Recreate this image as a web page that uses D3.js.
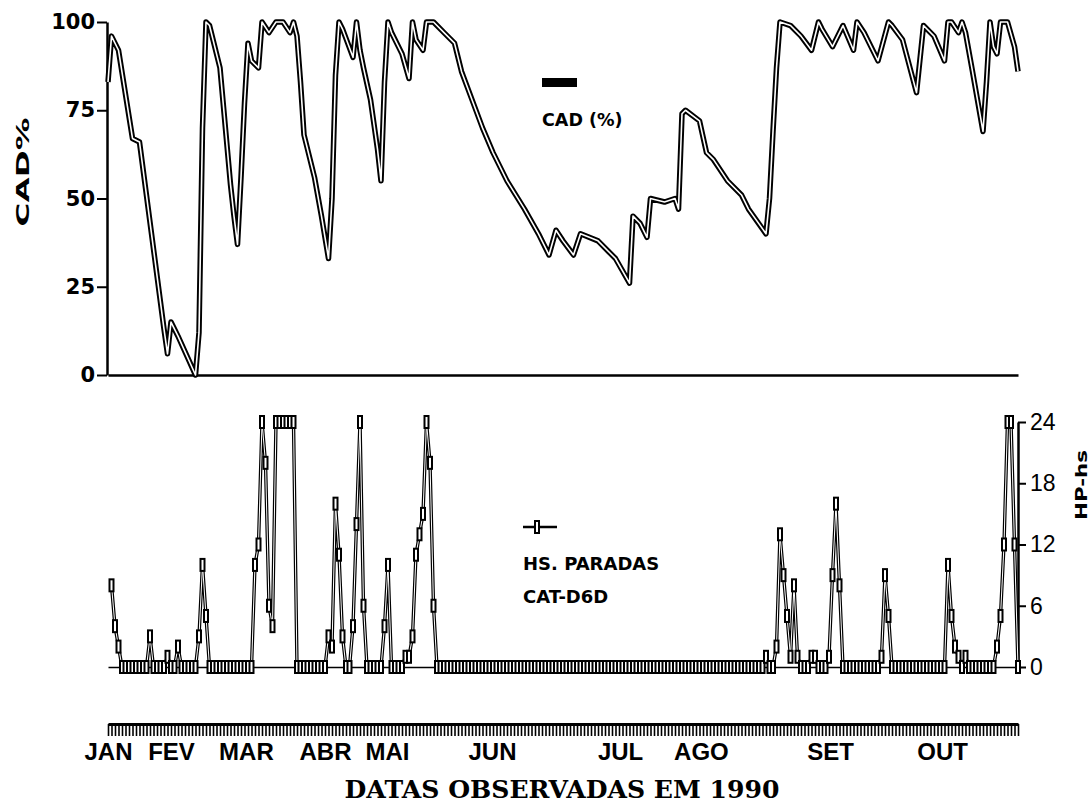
<!DOCTYPE html>
<html>
<head>
<meta charset="utf-8">
<script src="https://d3js.org/d3.v7.min.js"></script>
<style>
  body { margin: 0; background: #fff; }
  svg { display: block; }
</style>
</head>
<body>
<div id="chart"></div>
<script>
// width and height
var w = 1090;
var h = 805;

// observation number (x) and CAD % for the top panel
var cadObs = [0, 1, 3, 7, 9, 16, 17, 18, 20, 25,
  26, 27, 28, 29, 32, 35, 36, 37, 38, 39,
  40, 41, 43, 44, 46, 48, 50, 52, 53, 54,
  55, 56, 59, 61, 63, 64, 65, 66, 67, 70,
  71, 72, 73, 75, 77, 78, 79, 80, 81, 84,
  86, 87, 88, 90, 91, 93, 96, 99, 101, 104,
  107, 110, 114, 119, 123, 126, 128, 130, 133, 135,
  140, 143, 145, 149, 150, 152, 154, 155, 159, 162,
  163, 164, 165, 169, 171, 173, 177, 181, 183, 188,
  189, 190, 191, 192, 195, 198, 201, 203, 204, 207,
  210, 213, 214, 216, 220, 223, 224, 227, 231, 233,
  236, 239, 240, 241, 243, 244, 245, 247, 250, 251,
  252, 253, 254, 255, 257, 259, 260];
var cadPct = [83, 96, 92, 67, 66, 13, 6, 15, 11, 0,
  12, 70, 100, 99, 87, 54, 45, 37, 56, 77,
  94, 89, 87, 100, 97, 100, 100, 97, 100, 96,
  83, 68, 56, 45, 33, 50, 85, 100, 98, 90,
  100, 92, 87, 78, 64, 55, 83, 100, 97, 91,
  84, 100, 95, 92, 100, 100, 97, 94, 86, 78,
  70, 63, 55, 47, 40, 34, 41, 38, 34, 40,
  38, 35, 33, 26, 45, 43, 39, 50, 49, 50,
  47, 74, 75, 72, 63, 61, 55, 51, 47, 40,
  50, 69, 87, 100, 99, 96, 92, 100, 98, 93,
  99, 92, 100, 97, 89, 100, 99, 95, 80, 99,
  96, 89, 100, 100, 97, 100, 97, 86, 69, 83,
  100, 93, 91, 100, 100, 93, 86];

// hours stopped, one value per observation, starting at observation 1
var hsFirstObs = 1;
var hsHours = [
  8, 4, 2, 0, 0, 0, 0, 0, 0, 0,
  0, 3, 0, 0, 0, 0, 1, 0, 0, 2,
  0, 0, 0, 0, 0, 3, 10, 5, 0, 0,
  0, 0, 0, 0, 0, 0, 0, 0, 0, 0,
  0, 10, 12, 24, 20, 6, 4, 24, 24, 24,
  24, 24, 24, 0, 0, 0, 0, 0, 0, 0,
  0, 0, 3, 2, 16, 11, 3, 0, 0, 4,
  14, 24, 6, 0, 0, 0, 0, 0, 4, 10,
  0, 0, 0, 0, 1, 1, 3, 11, 13, 15,
  24, 20, 6, 0, 0, 0, 0, 0, 0, 0,
  0, 0, 0, 0, 0, 0, 0, 0, 0, 0,
  0, 0, 0, 0, 0, 0, 0, 0, 0, 0,
  0, 0, 0, 0, 0, 0, 0, 0, 0, 0,
  0, 0, 0, 0, 0, 0, 0, 0, 0, 0,
  0, 0, 0, 0, 0, 0, 0, 0, 0, 0,
  0, 0, 0, 0, 0, 0, 0, 0, 0, 0,
  0, 0, 0, 0, 0, 0, 0, 0, 0, 0,
  0, 0, 0, 0, 0, 0, 0, 0, 0, 0,
  0, 0, 0, 0, 0, 0, 0, 1, 0, 0,
  2, 13, 9, 5, 1, 8, 1, 0, 0, 0,
  1, 1, 0, 0, 0, 1, 9, 16, 8, 0,
  0, 0, 0, 0, 0, 0, 0, 0, 0, 0,
  1, 9, 5, 0, 0, 0, 0, 0, 0, 0,
  0, 0, 0, 0, 0, 0, 0, 0, 0, 10,
  5, 2, 1, 0, 1, 0, 0, 0, 0, 0,
  0, 0, 0, 2, 5, 12, 24, 24, 12, 0];

// month labels and the observation they sit on
var months = ["JAN", "FEV", "MAR", "ABR", "MAI", "JUN", "JUL", "AGO", "SET", "OUT"];
var monthObs = [0, 18, 39.4, 62, 79.7, 109.7, 146.3, 169.4, 206.3, 238.3];

var cadTicks = [0, 25, 50, 75, 100];
var hsTicks = [0, 6, 12, 18, 24];
var lastObs = 260;

var cad = cadObs.map(function(d, i) { return [d, cadPct[i]]; });
var hs = hsHours.map(function(d, i) { return [hsFirstObs + i, d]; });

// scales
var x = d3.scaleLinear().domain([0, lastObs]).range([108, 1018]);
var yCad = d3.scaleLinear().domain([0, 100]).range([375, 22]);
var yHs = d3.scaleLinear().domain([0, 24]).range([667, 422]);

var svg = d3.select("#chart")
  .append("svg")
  .attr("width", w)
  .attr("height", h);

//--------------------------- TOP: CAD % ---------------------------//

var gLeft = svg.append("g")
  .attr("transform", "translate(107,0)")
  .call(d3.axisLeft(yCad).tickValues(cadTicks).tickSize(10).tickSizeOuter(0).tickPadding(2));

gLeft.select(".domain").attr("stroke-width", 2.5);
gLeft.selectAll(".tick line").attr("stroke-width", 2);
gLeft.selectAll(".tick text")
  .attr("font-family", "DejaVu Sans")
  .attr("font-weight", "bold")
  .attr("font-size", "21px")
  .attr("fill", "#000");

var gTopBase = svg.append("g")
  .attr("transform", "translate(0,375)")
  .call(d3.axisBottom(x).tickValues([]).tickSizeOuter(0));
gTopBase.select(".domain").attr("stroke-width", 2.5);

var cadLine = d3.line()
  .x(function(d) { return x(d[0]); })
  .y(function(d) { return yCad(d[1]); });

// hollow line: black stroke with a white core
svg.append("path")
  .datum(cad)
  .attr("d", cadLine)
  .attr("fill", "none")
  .attr("stroke", "#000")
  .attr("stroke-width", 5.5)
  .attr("stroke-linejoin", "round");

svg.append("path")
  .datum(cad)
  .attr("d", cadLine)
  .attr("fill", "none")
  .attr("stroke", "#fff")
  .attr("stroke-width", 1.6)
  .attr("stroke-linejoin", "round");

svg.append("text")
  .text("CAD%")
  .attr("transform", "translate(29,172) rotate(-90)")
  .attr("text-anchor", "middle")
  .attr("font-family", "DejaVu Sans")
  .attr("font-weight", "bold")
  .attr("font-size", "18px")
  .attr("textLength", 109)
  .attr("lengthAdjust", "spacingAndGlyphs");

// legend top
svg.append("rect")
  .attr("x", 542)
  .attr("y", 78)
  .attr("width", 35)
  .attr("height", 9)
  .attr("fill", "#000");

svg.append("text")
  .text("CAD (%)")
  .attr("x", 542)
  .attr("y", 126)
  .attr("font-family", "DejaVu Sans")
  .attr("font-weight", "bold")
  .attr("font-size", "17.5px");

//--------------------------- BOTTOM: HS. PARADAS ---------------------------//

var gBase = svg.append("g")
  .attr("transform", "translate(0,667)")
  .call(d3.axisBottom(x).tickValues([]).tickSizeOuter(0));
gBase.select(".domain").attr("stroke-width", 1.5);

var gRight = svg.append("g")
  .attr("transform", "translate(1018,0)")
  .call(d3.axisRight(yHs).tickValues(hsTicks).tickSize(8).tickSizeOuter(0).tickPadding(4));

gRight.select(".domain").attr("stroke-width", 2.5);
gRight.selectAll(".tick line").attr("stroke-width", 2);
gRight.selectAll(".tick text")
  .attr("font-family", "Liberation Sans")
  .attr("font-size", "23px")
  .attr("fill", "#000");

var hsLine = d3.line()
  .x(function(d) { return x(d[0]); })
  .y(function(d) { return yHs(d[1]); });

svg.append("path")
  .datum(hs)
  .attr("d", hsLine)
  .attr("fill", "none")
  .attr("stroke", "#000")
  .attr("stroke-width", 3.4);

svg.append("path")
  .datum(hs)
  .attr("d", hsLine)
  .attr("fill", "none")
  .attr("stroke", "#fff")
  .attr("stroke-width", 1);

// markers: thick outline, small white core, so runs of zeros merge into a dark band
svg.selectAll("rect.mark")
  .data(hs)
  .enter()
  .append("rect")
  .attr("class", "mark")
  .attr("x", function(d) { return x(d[0]) - 2; })
  .attr("y", function(d) { return yHs(d[1]) - 6; })
  .attr("width", 4)
  .attr("height", 12)
  .attr("fill", "#fff")
  .attr("stroke", "#000")
  .attr("stroke-width", 2);

svg.append("text")
  .text("HP-hs")
  .attr("transform", "translate(1087,485) rotate(-90)")
  .attr("text-anchor", "middle")
  .attr("font-family", "DejaVu Sans")
  .attr("font-weight", "bold")
  .attr("font-size", "15px")
  .attr("textLength", 70)
  .attr("lengthAdjust", "spacingAndGlyphs");

// legend bottom
svg.append("line")
  .attr("x1", 523)
  .attr("x2", 557)
  .attr("y1", 527)
  .attr("y2", 527)
  .attr("stroke", "#000")
  .attr("stroke-width", 2.5);

svg.append("rect")
  .attr("x", 535)
  .attr("y", 521)
  .attr("width", 4)
  .attr("height", 12)
  .attr("fill", "#fff")
  .attr("stroke", "#000")
  .attr("stroke-width", 2);

svg.append("text")
  .text("HS. PARADAS")
  .attr("x", 523)
  .attr("y", 570)
  .attr("font-family", "DejaVu Sans")
  .attr("font-weight", "bold")
  .attr("font-size", "18px");

svg.append("text")
  .text("CAT-D6D")
  .attr("x", 523)
  .attr("y", 603)
  .attr("font-family", "DejaVu Sans")
  .attr("font-weight", "bold")
  .attr("font-size", "18px");

//--------------------------- DATE AXIS ---------------------------//

var gComb = svg.append("g")
  .attr("transform", "translate(0,724)")
  .call(d3.axisBottom(x).tickValues(d3.range(0, lastObs + 1)).tickSize(12).tickSizeOuter(0).tickFormat(""));
gComb.select(".domain").attr("stroke-width", 3);
gComb.selectAll(".tick line").attr("stroke-width", 1.6);

var gMonths = svg.append("g")
  .attr("transform", "translate(0,742)")
  .call(d3.axisBottom(x).tickValues(monthObs).tickSize(0).tickPadding(1)
    .tickFormat(function(d, i) { return months[i]; }));
gMonths.select(".domain").remove();
gMonths.selectAll(".tick text")
  .attr("font-family", "Liberation Sans")
  .attr("font-weight", "bold")
  .attr("font-size", "24px")
  .attr("fill", "#000");

svg.append("text")
  .text("DATAS OBSERVADAS EM 1990")
  .attr("x", 562)
  .attr("y", 798)
  .attr("text-anchor", "middle")
  .attr("font-family", "DejaVu Serif")
  .attr("font-weight", "bold")
  .attr("font-size", "25px")
  .attr("textLength", 435)
  .attr("lengthAdjust", "spacingAndGlyphs");
</script>
</body>
</html>
